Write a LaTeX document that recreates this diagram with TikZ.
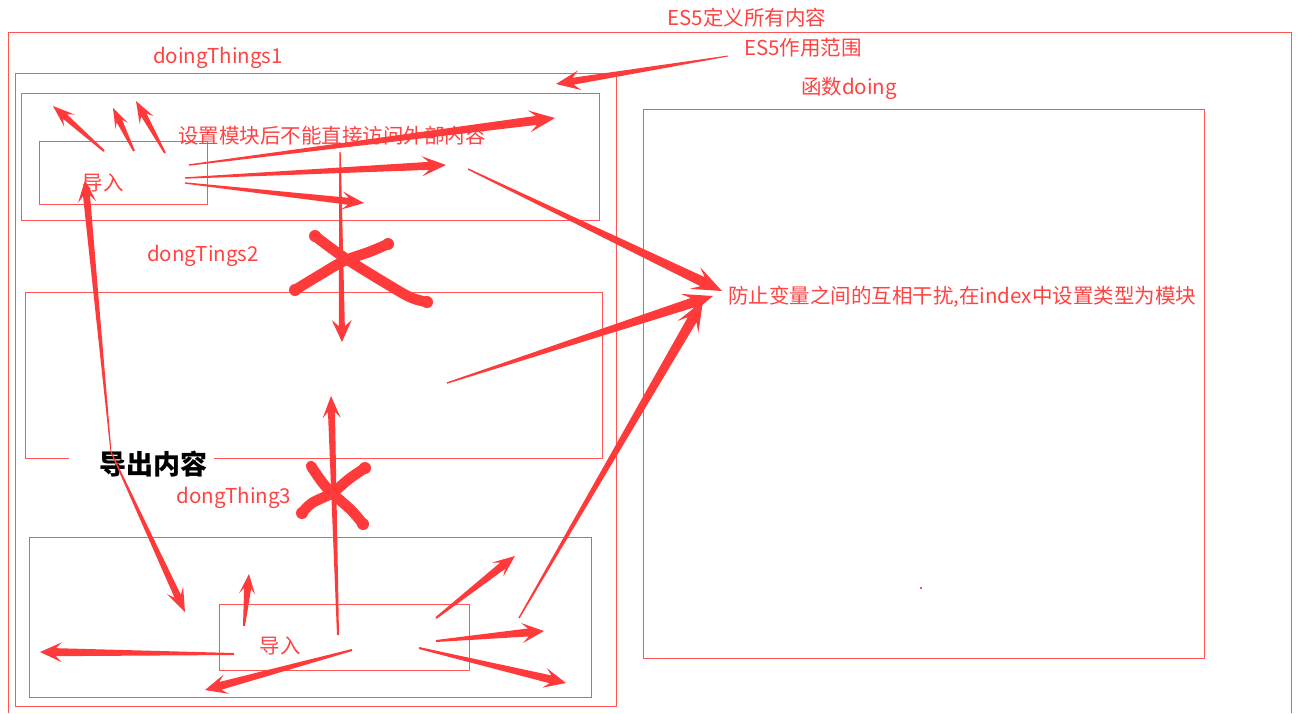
\documentclass[tikz,border=0pt]{standalone}
\usepackage{fontspec}
\setmainfont{Noto Sans CJK SC}
\usetikzlibrary{calc}
\definecolor{rd}{RGB}{255,58,58}
\definecolor{bx}{RGB}{255,85,85}
\definecolor{tx}{RGB}{255,66,66}
% #1 tail, #2 tip, #3 tail half width, #4 shaft half width, #5 head length, #6 head half width
\newcommand\farrow[6]{%
  \fill[rd] ($(#1)!#3!90:(#2)$)
    -- ($(#2)!0.72*#5!(#1)!#4!90:(#2)$)
    -- ($(#2)!#5!(#1)!#6!90:(#2)$)
    -- (#2)
    -- ($(#2)!#5!(#1)!#6!-90:(#2)$)
    -- ($(#2)!0.72*#5!(#1)!#4!-90:(#2)$)
    -- ($(#1)!#3!-90:(#2)$) -- cycle;}
\tikzset{
  box/.style={draw=bx, line width=1pt},
  lbl/.style={text=tx, font=\fontsize{20.5}{20.5}\selectfont, inner sep=0pt},
  scribble/.style={draw=rd, line width=10.5pt, line cap=round, line join=round},
}
\begin{document}
\begin{tikzpicture}[x=1pt,y=-1pt]
\useasboundingbox (0,0) rectangle (1297,713);
\fill[white] (0,0) rectangle (1297,713);
% boxes
\draw[box] (8,713) -- (8,32) -- (1291,32) -- (1291,713);
\draw[box] (15,73) rectangle (616,706);
\draw[box] (21,93) rectangle (599,220);
\draw[box] (39,141) rectangle (207,204);
\draw[box] (69,458) -- (25,458) -- (25,292) -- (602,292) -- (602,458) -- (214,458);
\draw[box] (29,537) rectangle (591,697);
\draw[box] (219,604) rectangle (469,670);
\draw[box] (643,109) rectangle (1204,658);
\fill[bx] (920,587) rectangle (922,589);
% labels
\node[lbl] (es5all) at (747,18) {ES5定义所有内容};
\node[lbl] (es5scope) at (803,48) {ES5作用范围};
\node[lbl] (fdoing) at (849,88) {函数doing};
\node[lbl] (dt1) at (218,58) {doingThings1};
\node[lbl] (setmod) at (332,136) {设置模块后不能直接访问外部内容};
\node[lbl] (imp1) at (103,183) {导入};
\node[lbl] (dt2) at (203,256) {dongTings2};
\node[font=\fontsize{27}{27}\selectfont\bfseries, inner sep=0pt] (export) at (153,464) {导出内容};
\node[lbl] (dt3) at (234,498) {dongThing3};
\node[lbl] (imp2) at (280,646) {导入};
\node[lbl] (prevent) at (962,297) {防止变量之间的互相干扰,在index中设置类型为模块};
% arrow end points
\coordinate (a1s) at (104,151); \coordinate (a1e) at (53,106);
\coordinate (a2s) at (134,151); \coordinate (a2e) at (113,108);
\coordinate (a3s) at (165,153); \coordinate (a3e) at (136,101);
\coordinate (a4s) at (189,165); \coordinate (a4e) at (555,118);
\coordinate (a5s) at (185,178); \coordinate (a5e) at (446,165);
\coordinate (a6s) at (185,183); \coordinate (a6e) at (364,203);
\coordinate (a7s) at (728,56);  \coordinate (a7e) at (556,84);
\coordinate (a8s) at (340,152); \coordinate (a8e) at (342,342);
\coordinate (m1) at (111,452);
\coordinate (a9e) at (85,180);
\coordinate (a10e) at (185,612);
\coordinate (t1s) at (468,169); \coordinate (t1e) at (722,291);
\coordinate (t2s) at (447,383); \coordinate (t2e) at (713,296);
\coordinate (t3s) at (519,618); \coordinate (t3e) at (703,301);
\coordinate (a11s) at (338,635); \coordinate (a11e) at (331,396);
\coordinate (b1s) at (244,626); \coordinate (b1e) at (249,574);
\coordinate (b2s) at (234,654); \coordinate (b2e) at (40,652);
\coordinate (b3s) at (352,650); \coordinate (b3e) at (205,690);
\coordinate (b4s) at (436,618); \coordinate (b4e) at (515,556);
\coordinate (b5s) at (436,641); \coordinate (b5e) at (544,631);
\coordinate (b6s) at (419,648); \coordinate (b6e) at (566,683);
% arrows
\farrow{a1s}{a1e}{1pt}{3pt}{22pt}{8pt}
\farrow{a2s}{a2e}{1pt}{3pt}{20pt}{7pt}
\farrow{a3s}{a3e}{1pt}{3pt}{22pt}{8pt}
\farrow{a4s}{a4e}{0.7pt}{4.5pt}{26pt}{11pt}
\farrow{a5s}{a5e}{0.7pt}{4pt}{24pt}{10pt}
\farrow{a6s}{a6e}{0.7pt}{3.5pt}{22pt}{9pt}
\farrow{a7s}{a7e}{0.5pt}{3.5pt}{24pt}{10pt}
\farrow{a8s}{a8e}{0.7pt}{3pt}{22pt}{10pt}
\farrow{m1}{a9e}{0.5pt}{3.5pt}{22pt}{9pt}
\farrow{m1}{a10e}{0.5pt}{3.5pt}{24pt}{9pt}
\farrow{t1s}{t1e}{0.7pt}{5pt}{30pt}{12pt}
\farrow{t2s}{t2e}{0.7pt}{5pt}{30pt}{12pt}
\farrow{t3s}{t3e}{0.7pt}{5pt}{30pt}{12pt}
\farrow{a11s}{a11e}{1pt}{3.5pt}{22pt}{9pt}
\farrow{b1s}{b1e}{1pt}{3.5pt}{20pt}{8pt}
\farrow{b2s}{b2e}{1pt}{4pt}{22pt}{10pt}
\farrow{b3s}{b3e}{1pt}{4pt}{22pt}{10pt}
\farrow{b4s}{b4e}{1pt}{4pt}{22pt}{9pt}
\farrow{b5s}{b5e}{1pt}{4pt}{22pt}{10pt}
\farrow{b6s}{b6e}{1pt}{4pt}{22pt}{10pt}
% scribbled crosses
\draw[scribble] plot[smooth, tension=0.6] coordinates {(315,236) (345,258) (392,287) (412,298) (427,302)};
\draw[scribble] plot[smooth, tension=0.6] coordinates {(295,290) (318,276) (344,261) (369,252) (388,244)};
\draw[scribble] plot[smooth, tension=0.6] coordinates {(311,466) (322,482) (332,493) (351,510) (363,524)};
\draw[scribble] plot[smooth, tension=0.6] coordinates {(365,468) (349,479) (332,493) (312,503) (302,513)};
\fill[rd] (315,236) circle (6pt) (427,302) circle (6pt) (295,290) circle (6pt)
          (388,244) circle (6pt) (363,524) circle (6pt) (365,468) circle (6pt)
          (302,513) circle (6pt);
\end{tikzpicture}
\end{document}
